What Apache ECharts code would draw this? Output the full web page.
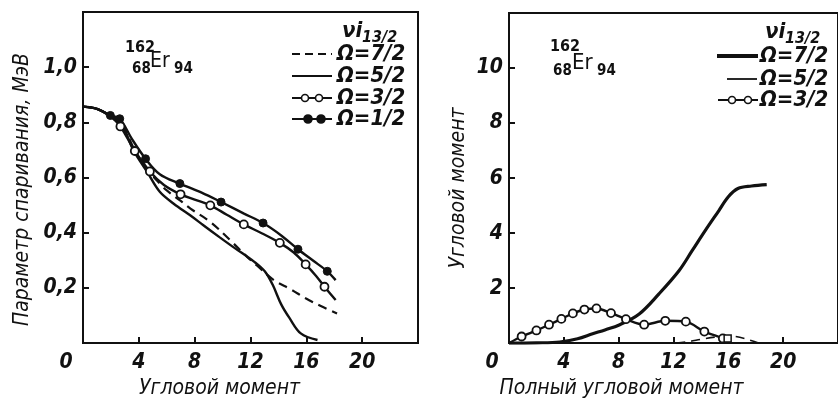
<!DOCTYPE html>
<html><head><meta charset="utf-8">
<script src="https://cdn.jsdelivr.net/npm/echarts@6/dist/echarts.min.js"></script>
<style>html,body{margin:0;padding:0;background:#fff}#c{width:838px;height:404px}</style>
</head><body><div id="c"></div>
<script>
// ---- tick labels ----
const xTickValues = [4, 8, 12, 16, 20];
const xLabelValues = [0, 4, 8, 12, 16, 20];
const leftYTicks = [0.2, 0.4, 0.6, 0.8, 1.0];
const rightYTicks = [2, 4, 6, 8, 10];

// ---- left panel: pairing parameter (MeV) vs angular momentum ----
const leftOmega72 = [[0,0.857],[1,0.849],[2,0.822],[2.8,0.79],[3.7,0.7],[4.6,0.63],[5.5,0.578],[6,0.553],[7,0.515],[7.7,0.487],[9.12,0.439],[10.56,0.372],[11.76,0.312],[12.48,0.28],[13.67,0.228],[14.87,0.195],[15.95,0.162],[17,0.135],[18.2,0.107]];
const leftOmega52 = [[0,0.857],[1,0.849],[2,0.822],[2.8,0.79],[3.6,0.7],[4.6,0.62],[5.5,0.548],[6.5,0.505],[7.7,0.462],[8.6,0.428],[9.8,0.383],[10.9,0.343],[11.8,0.312],[12.5,0.285],[13.1,0.255],[13.6,0.21],[14.2,0.14],[14.8,0.09],[15.6,0.035],[16.8,0.011]];
const leftOmega32 = [[0,0.857],[1,0.849],[2,0.82],[2.68,0.785],[3.71,0.696],[4.79,0.622],[5.8,0.573],[6.99,0.539],[8,0.52],[9.12,0.499],[10.3,0.465],[11.52,0.43],[12.8,0.398],[14.1,0.363],[15.1,0.328],[15.95,0.285],[16.7,0.243],[17.3,0.204],[18.1,0.156]];
const leftOmega32Marks = [[2.68,0.785],[3.71,0.696],[4.79,0.622],[6.99,0.539],[9.12,0.499],[11.52,0.43],[14.1,0.363],[15.95,0.285],[17.3,0.204]];
const leftOmega12 = [[0,0.857],[1,0.849],[1.96,0.825],[2.63,0.813],[3.5,0.74],[4.48,0.668],[5.5,0.612],[6.94,0.578],[8.5,0.545],[9.89,0.511],[11.5,0.47],[12.9,0.435],[14.2,0.39],[15.4,0.34],[16.5,0.298],[17.5,0.26],[18.1,0.228]];
const leftOmega12Marks = [[1.96,0.825],[2.63,0.813],[4.48,0.668],[6.94,0.578],[9.89,0.511],[12.9,0.435],[15.4,0.34],[17.5,0.26]];

// ---- right panel: angular momentum vs total angular momentum ----
const rightOmega72 = [[0,0],[2,0.01],[3.7,0.04],[5,0.16],[6.1,0.34],[7,0.48],[8.04,0.66],[9.5,1.06],[10.94,1.79],[12.4,2.63],[13.36,3.36],[14.3,4.08],[15.3,4.81],[16.0,5.32],[16.7,5.62],[17.7,5.71],[18.8,5.76]];
const rightOmega52 = [[12.2,0],[12.9,0.04],[13.8,0.12],[15.05,0.22],[15.9,0.26],[16.5,0.24],[17.2,0.16],[18.2,0]];
const rightOmega32 = [[0,0],[0.92,0.24],[2.0,0.46],[2.92,0.67],[3.82,0.88],[4.66,1.08],[5.5,1.22],[6.38,1.26],[7.44,1.09],[8.53,0.87],[9.86,0.67],[11.4,0.81],[12.9,0.78],[14.25,0.42],[15.6,0.17],[16.2,0]];
const rightOmega32Marks = [[0.92,0.24],[2.0,0.46],[2.92,0.67],[3.82,0.88],[4.66,1.08],[5.5,1.22],[6.38,1.26],[7.44,1.09],[8.53,0.87],[9.86,0.67],[11.4,0.81],[12.9,0.78],[14.25,0.42],[15.6,0.17]];
const rightSquareMark = [[15.95,0.17]];

const FONT = "'DejaVu Sans Condensed','DejaVu Sans','Liberation Sans Narrow',sans-serif";
const INK = '#111';

function xAxisCfg(grid, name, namePadRight) {
  return {
    type: 'value', gridIndex: grid, min: 0, max: 24, interval: 4,
    name: name, nameLocation: 'middle', nameGap: 32,
    nameTextStyle: { fontFamily: FONT, fontSize: 21, fontStyle: 'italic', color: INK, padding: [0, namePadRight, 0, 0] },
    axisLine: { show: true, onZero: false, lineStyle: { color: INK, width: 2 } },
    axisTick: { show: true, inside: true, length: 6, customValues: xTickValues, lineStyle: { color: INK, width: 2 } },
    axisLabel: {
      customValues: xLabelValues, margin: 9, color: INK, fontFamily: FONT, fontSize: 21, fontStyle: 'italic', fontWeight: 'bold',
      formatter: v => v === 0 ? '{z|0}' : String(v),
      rich: { z: { fontFamily: FONT, fontSize: 21, fontStyle: 'italic', fontWeight: 'bold', color: INK, padding: [0, 34, 0, 0] } }
    },
    splitLine: { show: false }
  };
}
function yAxisCfg(grid, max, ticks, name, namePadRight, nameGap, fmt) {
  return {
    type: 'value', gridIndex: grid, min: 0, max: max,
    name: name, nameLocation: 'middle', nameGap: nameGap,
    nameTextStyle: { fontFamily: FONT, fontSize: 21, fontStyle: 'italic', color: INK, padding: [0, namePadRight, 0, 0] },
    axisLine: { show: true, onZero: false, lineStyle: { color: INK, width: 2 } },
    axisTick: { show: true, inside: true, length: 6, customValues: ticks, lineStyle: { color: INK, width: 2 } },
    axisLabel: { customValues: ticks, margin: 6, color: INK, fontFamily: FONT, fontSize: 21, fontStyle: 'italic', fontWeight: 'bold', formatter: fmt },
    splitLine: { show: false }
  };
}

function lineSeries(name, xi, data, opts) {
  return Object.assign({
    name: name, type: 'line', xAxisIndex: xi, yAxisIndex: xi, data: data,
    smooth: 0.35, showSymbol: false, symbol: 'none', silent: true, z: 2,
    lineStyle: { color: INK, width: 2.4 }
  }, opts || {});
}
function markSeries(name, xi, data, filled, size) {
  return {
    name: name, type: 'scatter', xAxisIndex: xi, yAxisIndex: xi, data: data, z: 5, silent: true,
    symbol: 'circle', symbolSize: size,
    itemStyle: filled ? { color: INK, borderColor: INK, borderWidth: 1, opacity: 1 } : { color: '#fff', borderColor: INK, borderWidth: 1.8, opacity: 1 }
  };
}

// ---- legend / annotation graphics ----
const txt = (x, y, s, size, extra) => ({ type: 'text', x: x, y: y, silent: true,
  style: Object.assign({ text: s, fill: INK, fontFamily: FONT, fontSize: size, fontStyle: 'italic', fontWeight: 'bold', verticalAlign: 'middle', align: 'left' }, extra || {}) });
const seg = (x1, x2, y, w, dash) => ({ type: 'line', silent: true, shape: { x1: x1, y1: y, x2: x2, y2: y },
  style: { stroke: INK, lineWidth: w, lineDash: dash || null } });
const dot = (cx, cy, r, filled) => ({ type: 'circle', silent: true, shape: { cx: cx, cy: cy, r: r },
  style: { fill: filled ? INK : '#fff', stroke: INK, lineWidth: 1.6 }, z: 10 });
const up = { fontStyle: 'normal' };

const graphics = [
  // left isotope label
  txt(125, 48, '162', 16, up), txt(132, 69, '68', 15, up), txt(150, 62, 'Er', 21, { fontStyle: 'normal', fontWeight: 'normal' }), txt(174, 69, '94', 15, up),
  // right isotope label
  txt(550, 47, '162', 16, up), txt(553, 71, '68', 15, up), txt(572, 63, 'Er', 22, { fontStyle: 'normal', fontWeight: 'normal' }), txt(597, 71, '94', 15, up),
  // left legend
  txt(342, 31, 'νi', 22), txt(362, 38, '13/2', 16),
  seg(292, 332, 54, 2, [8, 5]), txt(337, 54, 'Ω=7/2', 22),
  seg(292, 332, 76, 2), txt(337, 76, 'Ω=5/2', 22),
  seg(292, 332, 98, 2), dot(305, 98, 3.5, false), dot(319, 98, 3.5, false), txt(337, 98, 'Ω=3/2', 22),
  seg(292, 332, 119, 2), dot(308, 119, 4, true), dot(321, 119, 4, true), txt(337, 119, 'Ω=1/2', 22),
  // right legend
  txt(765, 32, 'νi', 22), txt(785, 39, '13/2', 16),
  seg(717, 758, 56, 4), txt(760, 56, 'Ω=7/2', 22),
  seg(727, 757, 79, 1.8), txt(760, 79, 'Ω=5/2', 22),
  seg(718, 758, 100, 1.8), dot(732, 100, 3.5, false), dot(748, 100, 3.5, false), txt(760, 100, 'Ω=3/2', 22)
];

const chart = echarts.init(document.getElementById('c'), null, { renderer: 'canvas' });
chart.setOption({
  backgroundColor: '#fff',
  animation: false,
  grid: [
    { left: 83, top: 12, width: 335, height: 331, show: true, borderColor: INK, borderWidth: 2, backgroundColor: 'transparent' },
    { left: 509, top: 13, width: 331, height: 333, show: true, borderColor: INK, borderWidth: 2, backgroundColor: 'transparent' }
  ],
  xAxis: [
    xAxisCfg(0, 'Угловой момент', 62),
    xAxisCfg(1, 'Полный угловой момент', 104)
  ],
  yAxis: [
    yAxisCfg(0, 1.2, leftYTicks, 'Параметр спаривания, МэВ', 24, 50, v => v.toFixed(1).replace('.', ',')),
    yAxisCfg(1, 12, rightYTicks, 'Угловой момент', 20, 40, v => String(v))
  ],
  series: [
    lineSeries('Ω=7/2', 0, leftOmega72, { lineStyle: { color: INK, width: 2.2, type: [9, 6] } }),
    lineSeries('Ω=5/2', 0, leftOmega52),
    lineSeries('Ω=3/2', 0, leftOmega32),
    markSeries('Ω=3/2', 0, leftOmega32Marks, false, 8),
    lineSeries('Ω=1/2', 0, leftOmega12),
    markSeries('Ω=1/2', 0, leftOmega12Marks, true, 8),
    lineSeries('Ω=7/2', 1, rightOmega72, { lineStyle: { color: INK, width: 3.2 } }),
    lineSeries('Ω=5/2', 1, rightOmega52, { lineStyle: { color: INK, width: 1.6, type: [9, 6] } }),
    { name: 'Ω=5/2', type: 'scatter', xAxisIndex: 1, yAxisIndex: 1, data: rightSquareMark, symbol: 'rect', symbolSize: 7, z: 6, silent: true,
      itemStyle: { color: '#fff', borderColor: INK, borderWidth: 1.5, opacity: 1 } },
    lineSeries('Ω=3/2', 1, rightOmega32, { smooth: 0.3 }),
    markSeries('Ω=3/2', 1, rightOmega32Marks, false, 8)
  ],
  graphic: graphics
});
</script>
</body></html>
